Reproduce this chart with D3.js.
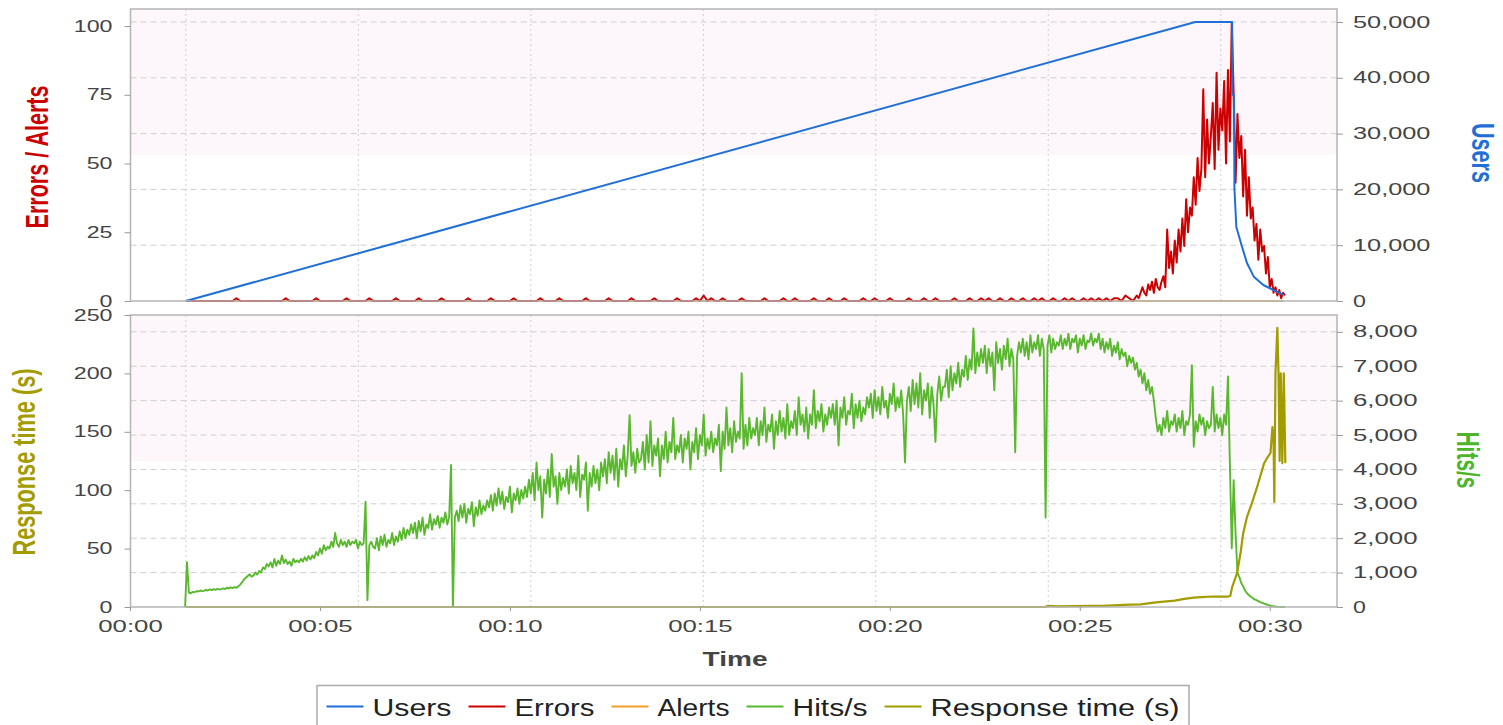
<!DOCTYPE html>
<html>
<head>
<meta charset="utf-8">
<script src="https://cdn.jsdelivr.net/npm/d3@7"></script>
<style>
  body { margin: 0; background: #fff; }
  text { font-family: "Liberation Sans", Arial, sans-serif; }
</style>
</head>
<body>
<div id="chart"></div>
<script>
// ---- data (time in minutes from test start) ----

// Hits/s, sampled every 0.05 min from 1.45 (rows = 1 minute)
const hitsStart = 1.45;
const hitsStep = 0.05;
const hitsPerSec = [
  0, 1300, 420, 400, 440, 430, 460, 450, 480, 460, 470, 500, 480, 510, 490, 520, 500, 530, 510, 520,
  540, 520, 560, 540, 570, 550, 580, 560, 600, 650, 720, 800, 850, 900, 950, 880, 920, 1000, 940, 1050,
  1000, 1150, 1100, 1250, 1180, 1300, 1150, 1400, 1200, 1350, 1250, 1500, 1280, 1380, 1250, 1320, 1200, 1400, 1300, 1350,
  1300, 1400, 1320, 1450, 1350, 1480, 1380, 1500, 1420, 1600, 1500, 1700, 1550, 1800, 1650, 1750, 1700, 1900, 1750, 2150,
  1850, 1750, 1950, 1800, 1900, 1750, 1950, 1800, 1900, 1850, 1950, 1700, 1900, 1800, 1850, 3060, 200, 1800, 1900, 1750,
  1700, 2000, 1650, 2050, 1800, 2100, 1750, 1950, 1850, 2150, 1800, 2050, 1900, 2200, 1950, 2300, 2000, 2250, 2100, 2400,
  2150, 2450, 2000, 2500, 2200, 2600, 2100, 2400, 2300, 2700, 2250, 2550, 2400, 2650, 2300, 2600, 2450, 2750, 2400, 2600,
  4130, 0, 2600, 2800, 2500, 2950, 2600, 3000, 2450, 2850, 2700, 3050, 2350, 2900, 2650, 3100, 2700, 2950, 2800, 3100,
  2900, 3250, 2800, 3300, 2950, 3450, 3000, 3350, 2850, 3200, 3050, 3500, 2750, 3300, 3100, 3450, 3000, 3400, 3150, 3500,
  3200, 3700, 3300, 3900, 3100, 4200, 3400, 3800, 2600, 3700, 3300, 4000, 3200, 4450, 3500, 3800, 3000, 3900, 3400, 3750,
  3500, 4000, 3300, 4100, 3600, 3900, 3400, 4400, 3200, 3850, 3700, 4200, 2800, 3900, 3500, 4100, 3600, 4000, 3400, 4200,
  3800, 4300, 3600, 4500, 3900, 4400, 3700, 4600, 3500, 4300, 4000, 4700, 3800, 4400, 5580, 4100, 4500, 3900, 4600, 4200,
  4300, 4800, 4000, 5000, 4200, 5400, 4100, 4700, 4400, 4900, 3800, 4700, 4300, 5100, 4200, 4800, 4500, 5500, 4300, 4700,
  4500, 5000, 4200, 4900, 4600, 5100, 4000, 4800, 4500, 5200, 4300, 5000, 4700, 5600, 4400, 4900, 4600, 5100, 4500, 4900,
  4700, 5300, 3950, 5100, 4600, 5800, 4700, 5200, 4500, 5400, 4800, 5100, 4900, 6800, 4600, 5300, 4700, 5500, 4900, 5200,
  5000, 5500, 4700, 5400, 5000, 5800, 4800, 5300, 5100, 5600, 4600, 5400, 5000, 5700, 5100, 5500, 4900, 5900, 5000, 5400,
  5200, 5700, 5000, 6100, 5300, 5600, 5100, 5800, 4900, 5600, 5300, 6300, 5200, 5700, 5400, 5900, 5100, 5600, 5300, 5800,
  5500, 5900, 5300, 6000, 4700, 5800, 5500, 6100, 5300, 5700, 5600, 6200, 5200, 5900, 5500, 6000, 5400, 5800, 5600, 6100,
  5800, 6200, 5500, 6300, 5700, 6100, 5600, 6400, 5800, 6000, 5500, 6200, 5900, 6500, 5700, 6100, 5800, 6300, 5600, 4200,
  6000, 6400, 5700, 6600, 5900, 6500, 5800, 6800, 5600, 6300, 6000, 6500, 5500, 6400, 5900, 4800, 6200, 6700, 6000, 6400,
  6400, 6900, 6100, 7000, 6300, 6800, 6500, 7100, 6400, 6900, 6700, 7300, 6600, 7200, 6900, 8100, 6800, 7400, 7000, 7500,
  7100, 7600, 6800, 7500, 7000, 7400, 6300, 7700, 7100, 7500, 6900, 7600, 7200, 7800, 7000, 7500, 7200, 4500, 7300, 7700,
  7400, 7800, 7300, 7700, 7200, 7900, 7400, 7700, 7500, 7900, 7300, 7800, 7500, 2600, 7600, 7900, 7400, 7800, 7500, 7700,
  7600, 7900, 7500, 7800, 7600, 7950, 7500, 7800, 7700, 7900, 7400, 7800, 7600, 7900, 7500, 7750, 7700, 7950, 7600, 7800,
  7700, 7950, 7500, 7800, 7400, 7700, 7500, 7800, 7300, 7600, 7400, 7700, 7200, 7500, 7300, 7400, 7000, 7300, 7100, 7250,
  6900, 7100, 6700, 6900, 6500, 6800, 6300, 6600, 6200, 6400, 6000, 5500, 5100, 5300, 5000, 5500, 5200, 5700, 5100, 5400,
  5300, 5600, 5100, 5500, 5200, 5700, 5000, 5400, 5300, 5600, 7030, 4660, 5400, 5100, 5600, 5300, 5500, 5000, 5400, 5200,
  5300, 6400, 5100, 5600, 5200, 5500, 5000, 5600, 5300, 6700, 4180, 1710, 3690, 2150, 990, 870, 700, 600, 480, 400,
  350, 300, 260, 220, 200, 170, 140, 120, 100, 80, 60, 45, 30, 20, 12, 6, 3, 0, 0, 0
];

// Errors: every 0.1 min from 1.5 to 26.4 ...
const errorsStart = 1.5;
const errorsStep = 0.1;
const errors = [
  0, 0, 0, 0, 0, 0, 0, 0, 0, 0,
  0, 0, 0, 1, 0, 0, 0, 0, 0, 0,
  0, 0, 0, 0, 0, 0, 1, 0, 0, 0,
  0, 0, 0, 0, 1, 0, 0, 0, 0, 0,
  0, 0, 1, 0, 0, 0, 0, 0, 1, 0,
  0, 0, 0, 0, 0, 1, 0, 0, 0, 0,
  0, 1, 0, 0, 0, 0, 0, 1, 0, 0,
  0, 0, 0, 0, 1, 0, 0, 0, 0, 0,
  1, 0, 0, 0, 0, 0, 1, 0, 0, 0,
  0, 0, 0, 1, 0, 0, 0, 0, 1, 0,
  0, 0, 0, 0, 0, 1, 0, 0, 0, 0,
  0, 1, 0, 0, 0, 0, 0, 1, 0, 0,
  0, 0, 0, 1, 0, 0, 0, 0, 0, 1,
  0, 0, 0, 0, 1, 0, 2, 0, 1, 0,
  0, 1, 0, 0, 0, 0, 1, 0, 0, 0,
  0, 0, 1, 0, 0, 0, 0, 1, 0, 0,
  1, 0, 0, 0, 0, 1, 0, 0, 0, 1,
  0, 0, 0, 1, 0, 0, 0, 0, 1, 0,
  0, 1, 0, 0, 0, 1, 0, 0, 0, 0,
  1, 0, 0, 0, 1, 0, 0, 1, 0, 0,
  0, 0, 1, 0, 0, 0, 1, 0, 0, 1,
  0, 1, 0, 0, 1, 0, 0, 1, 0, 0,
  1, 0, 0, 1, 0, 1, 0, 0, 1, 0,
  0, 1, 0, 1, 0, 0, 1, 0, 1, 0,
  1, 0, 1, 0, 1, 1, 0, 2, 1, 0
];
// ... then every 0.05 min from 26.45 to 30.4 (peak)
const errorsPeakStart = 26.45;
const errorsPeakStep = 0.05;
const errorsPeak = [
  1, 2, 1, 3, 5, 3, 2, 6, 4, 7, 3, 8, 5, 4, 7, 9, 5, 26, 12, 18,
  10, 22, 14, 26, 18, 30, 20, 37, 25, 34, 31, 45, 35, 52, 40, 48, 77, 45, 66, 50,
  60, 72, 48, 83, 55, 70, 62, 80, 50, 84, 58, 101, 75, 43, 68, 52, 60, 38, 55, 31,
  45, 30, 34, 22, 28, 15, 26, 18, 20, 10, 16, 5, 8, 3, 5, 2, 4, 1, 3, 2
];

const userTimes = [1.47, 28.04, 29.01, 29.02, 29.06, 29.07, 29.12, 29.27, 29.40, 29.58, 29.83, 30.09, 30.36];
const userCounts = [0, 50000, 50000, 36900, 36900, 20250, 13260, 9730, 6800, 4360, 2870, 1970, 1080];

const alertTimes = [1.47, 30.36];
const alertCounts = [0, 0];

const respTimes = [1.47, 24.1, 24.15, 24.4, 25.3, 25.6, 26.3, 26.6, 27.0, 27.5, 27.75, 28.0, 28.2, 28.5,
  28.88, 28.96, 29.01, 29.14, 29.23, 29.3, 29.4, 29.53, 29.67, 29.75, 29.85, 29.94, 30.02, 30.07,
  30.1, 30.12, 30.15, 30.2, 30.23, 30.26, 30.29, 30.33, 30.37, 30.41];
const respSeconds = [0, 0, 1, 0.5, 1, 1, 2, 2.3, 4, 5.4, 7, 8, 8.5, 9,
  8.8, 9.4, 17, 29, 46, 63, 77, 89, 103, 112, 123, 128, 132, 154,
  143, 90, 200, 239, 200, 125, 200, 123, 200, 123];

// vertical grid lines (minutes)
const gridTimes = [1.47, 6.01, 10.55, 15.09, 19.63, 24.17, 28.71];

// ticks
const timeTicks = [0, 5, 10, 15, 20, 25, 30];
const errorTicks = [0, 25, 50, 75, 100];
const userTicks = [0, 10000, 20000, 30000, 40000, 50000];
const respTicks = [0, 50, 100, 150, 200, 250];
const hitsTicks = [0, 1000, 2000, 3000, 4000, 5000, 6000, 7000, 8000];

const legendNames = ['Users', 'Errors', 'Alerts', 'Hits/s', 'Response time (s)'];

// ---- styles ----
const colors = {
  users: '#1f6fd6', errors: '#cc0000', alerts: '#f0a028',
  hits: '#5ab82e', resp: '#a39c00'
};
const legendColors = [colors.users, colors.errors, colors.alerts, colors.hits, colors.resp];
const legendTextWidths = [79, 80, 72, 75, 249];

// ---- layout ----
const svgWidth = 1503, svgHeight = 725;
const plotLeft = 130.5, plotRight = 1337;
const topPlot = { top: 9, bottom: 301 };
const botPlot = { top: 315, bottom: 607 };
const stretch = 1.45;   // the reference is drawn horizontally stretched

const svg = d3.select('#chart').append('svg')
  .attr('width', svgWidth).attr('height', svgHeight)
  .style('display', 'block');

svg.append('rect').attr('width', svgWidth).attr('height', svgHeight).attr('fill', '#fff');

// scales
const xScale = d3.scaleLinear().domain([0, 31.77]).range([130, 1337]);
const yErr = d3.scaleLinear().domain([0, 106.2]).range([topPlot.bottom, topPlot.top]);
const yUsers = d3.scaleLinear().domain([0, 52330]).range([topPlot.bottom, topPlot.top]);
const yResp = d3.scaleLinear().domain([0, 250]).range([botPlot.bottom, botPlot.top]);
const yHits = d3.scaleLinear().domain([0, 8490]).range([botPlot.bottom, botPlot.top]);

// plot backgrounds, grid
function drawPlotBack(p, yRight, rightTicks) {
  const h = p.bottom - p.top;
  svg.append('rect')
    .attr('x', plotLeft).attr('y', p.top)
    .attr('width', plotRight - plotLeft).attr('height', h / 2)
    .attr('fill', '#fdf7fc');
  svg.append('g').selectAll('line')
    .data(rightTicks.slice(1))
    .enter().append('line')
    .attr('x1', plotLeft).attr('x2', plotRight)
    .attr('y1', d => yRight(d)).attr('y2', d => yRight(d))
    .attr('stroke', '#cfcfcf').attr('stroke-width', 1)
    .attr('stroke-dasharray', '6,4');
  svg.append('g').selectAll('line')
    .data(gridTimes)
    .enter().append('line')
    .attr('x1', d => xScale(d)).attr('x2', d => xScale(d))
    .attr('y1', p.top).attr('y2', p.bottom)
    .attr('stroke', '#cfcfcf').attr('stroke-width', 1)
    .attr('stroke-dasharray', '2,3');
}
drawPlotBack(topPlot, yUsers, userTicks);
drawPlotBack(botPlot, yHits, hitsTicks);

// series
const sampled = (vals, t0, dt) => vals.map((v, i) => ({ t: t0 + i * dt, v: v }));
const paired = (ts, vs) => ts.map((t, i) => ({ t: t, v: vs[i] }));

function drawLine(data, yS, color, width) {
  svg.append('path')
    .datum(data)
    .attr('fill', 'none')
    .attr('stroke', color)
    .attr('stroke-width', width)
    .attr('stroke-linejoin', 'round')
    .attr('d', d3.line().x(d => xScale(d.t)).y(d => yS(d.v)));
}

const errorSeries = sampled(errors, errorsStart, errorsStep)
  .concat(sampled(errorsPeak, errorsPeakStart, errorsPeakStep));

drawLine(paired(alertTimes, alertCounts), yErr, colors.alerts, 1.5);
drawLine(errorSeries, yErr, colors.errors, 2);
drawLine(paired(userTimes, userCounts), yUsers, colors.users, 2);
drawLine(sampled(hitsPerSec, hitsStart, hitsStep), yHits, colors.hits, 1.9);
drawLine(paired(respTimes, respSeconds), yResp, colors.resp, 2.2);

// borders
[topPlot, botPlot].forEach(p => {
  svg.append('rect')
    .attr('x', plotLeft).attr('y', p.top)
    .attr('width', plotRight - plotLeft).attr('height', p.bottom - p.top)
    .attr('fill', 'none').attr('stroke', '#b5b5b5').attr('stroke-width', 1.5);
});

// axes
function styleAxis(g) {
  g.select('.domain').remove();
  g.selectAll('line').attr('stroke', '#999');
  g.selectAll('text')
    .attr('fill', '#444')
    .attr('font-size', 16)
    .attr('font-family', '"Liberation Sans", Arial, sans-serif')
    .attr('textLength', function() { return this.textContent.length * 12.9; })
    .attr('lengthAdjust', 'spacingAndGlyphs');
}
const fmtComma = d3.format(',');
const fmtTime = d => '00:' + d3.format('02d')(d);

svg.append('g').attr('transform', `translate(${plotLeft},0)`)
  .call(d3.axisLeft(yErr).tickValues(errorTicks).tickSize(6).tickPadding(12))
  .call(styleAxis);
svg.append('g').attr('transform', `translate(${plotRight},0)`)
  .call(d3.axisRight(yUsers).tickValues(userTicks).tickFormat(fmtComma).tickSize(6).tickPadding(10))
  .call(styleAxis);
svg.append('g').attr('transform', `translate(${plotLeft},0)`)
  .call(d3.axisLeft(yResp).tickValues(respTicks).tickSize(6).tickPadding(12))
  .call(styleAxis);
svg.append('g').attr('transform', `translate(${plotRight},0)`)
  .call(d3.axisRight(yHits).tickValues(hitsTicks).tickFormat(fmtComma).tickSize(6).tickPadding(10))
  .call(styleAxis);
svg.append('g').attr('transform', `translate(0,${botPlot.bottom})`)
  .call(d3.axisBottom(xScale).tickValues(timeTicks).tickFormat(fmtTime).tickSize(4).tickPadding(10))
  .call(styleAxis);

// axis titles
function axisTitle(label, x, y, angle, len, color) {
  svg.append('text')
    .attr('transform', `translate(${x},${y}) scale(${stretch},1) rotate(${angle})`)
    .attr('text-anchor', 'middle')
    .attr('font-weight', 'bold')
    .attr('font-size', 22)
    .attr('fill', color)
    .attr('textLength', len)
    .attr('lengthAdjust', 'spacingAndGlyphs')
    .text(label);
}
axisTitle('Errors / Alerts', 48, 157, -90, 143, colors.errors);
axisTitle('Users', 1472, 153, 90, 60, colors.users);
axisTitle('Response time (s)', 34.5, 462, -90, 187, colors.resp);
axisTitle('Hits/s', 1457, 460, 90, 57, '#4db52a');

svg.append('text')
  .attr('x', 735).attr('y', 666)
  .attr('text-anchor', 'middle')
  .attr('font-weight', 'bold')
  .attr('font-size', 20)
  .attr('fill', '#444')
  .attr('textLength', 65)
  .attr('lengthAdjust', 'spacingAndGlyphs')
  .text('Time');

// legend
svg.append('path')
  .attr('d', 'M317,725 V685.5 H1189 V725')
  .attr('fill', 'none').attr('stroke', '#aaa').attr('stroke-width', 1.5);

const legend = svg.append('g');
let cursor = 326.5;
legendNames.forEach((name, i) => {
  legend.append('line')
    .attr('x1', cursor).attr('x2', cursor + 37)
    .attr('y1', 706.5).attr('y2', 706.5)
    .attr('stroke', legendColors[i]).attr('stroke-width', 2);
  legend.append('text')
    .attr('x', cursor + 46).attr('y', 715.5)
    .attr('font-size', 23)
    .attr('fill', '#222')
    .attr('textLength', legendTextWidths[i])
    .attr('lengthAdjust', 'spacingAndGlyphs')
    .text(name);
  cursor += 46 + legendTextWidths[i] + 17;
});
</script>
</body>
</html>
